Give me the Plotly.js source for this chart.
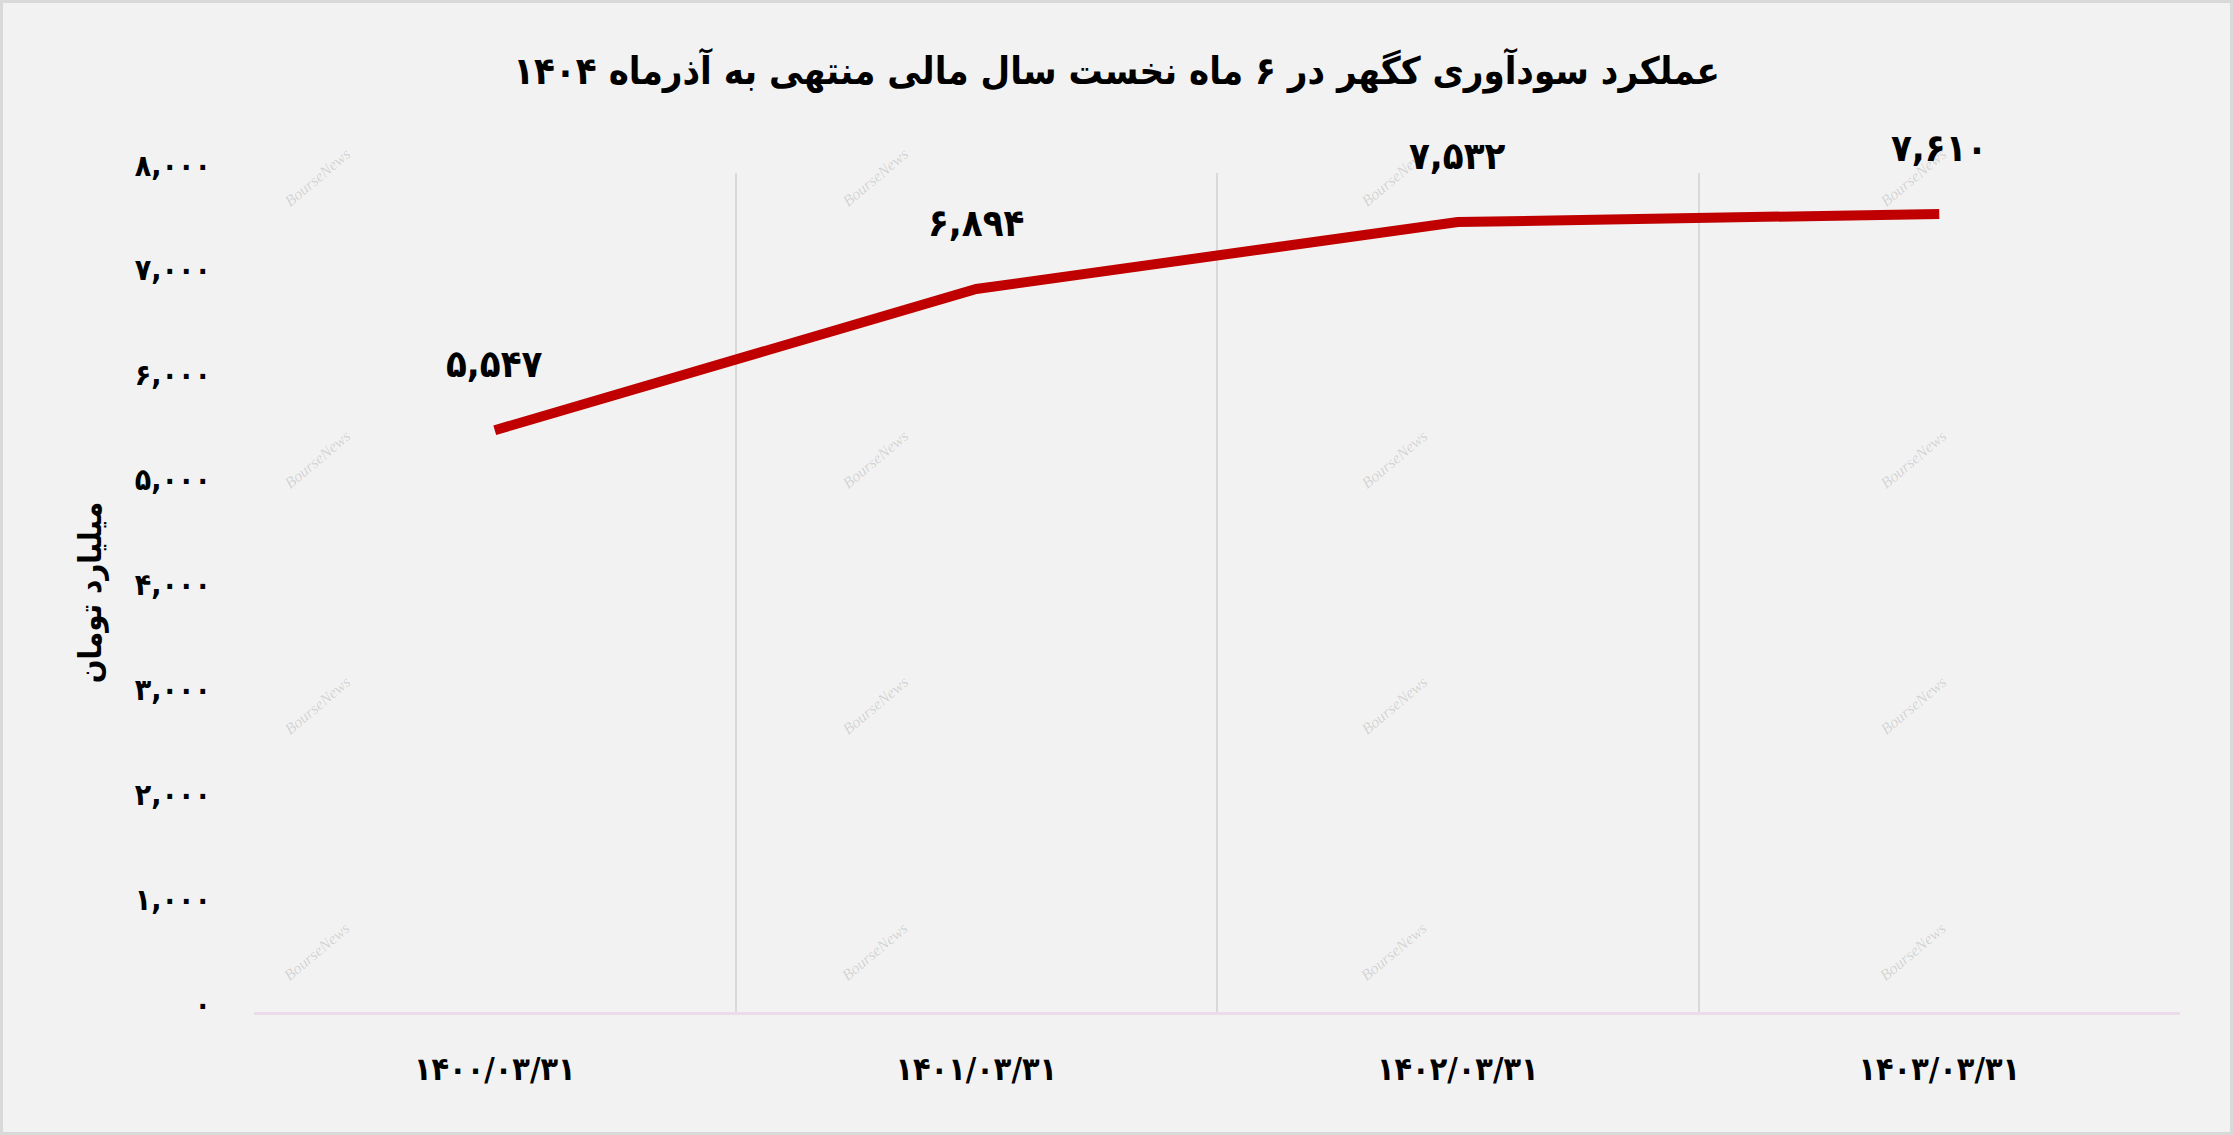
<!DOCTYPE html>
<html>
<head>
<meta charset="utf-8">
<script src="https://cdn.plot.ly/plotly-3.0.1.min.js"></script>
<style>
  html, body { margin: 0; padding: 0; background: #f2f2f2; }
  #frame { width: 2233px; height: 1135px; box-sizing: border-box; border: 3px solid #d9d9d9; background: #f2f2f2; }
  #chart { width: 2227px; height: 1129px; }
</style>
</head>
<body>
<div id="frame"><div id="chart"></div></div>
<script>
// ---- data ----
const categories = ["۱۴۰۰/۰۳/۳۱", "۱۴۰۱/۰۳/۳۱", "۱۴۰۲/۰۳/۳۱", "۱۴۰۳/۰۳/۳۱"];
const profitValues = [5547, 6894, 7532, 7610];
const valueLabels = ["۵,۵۴۷", "۶,۸۹۴", "۷,۵۳۲", "۷,۶۱۰"];
const yTickValues = [0, 1000, 2000, 3000, 4000, 5000, 6000, 7000, 8000];
const yTickLabels = ["۰", "۱,۰۰۰", "۲,۰۰۰", "۳,۰۰۰", "۴,۰۰۰", "۵,۰۰۰", "۶,۰۰۰", "۷,۰۰۰", "۸,۰۰۰"];
const chartTitle = "عملکرد سودآوری کگهر در ۶ ماه نخست سال مالی منتهی به آذرماه ۱۴۰۴";
const yAxisTitle = "میلیارد تومان";
const watermarkText = "BourseNews";

// ---- style ----
const FONT = "DejaVu Sans Condensed, DejaVu Sans, sans-serif";
const W = 2227, H = 1129;
const M = { l: 251, r: 50, t: 170, b: 120 };

const trace = {
  type: "scatter",
  mode: "lines",
  x: categories,
  y: profitValues,
  line: { color: "#c00000", width: 10 },
  hoverinfo: "skip"
};

const annotations = categories.map((c, i) => ({
  x: c, y: profitValues[i], xref: "x", yref: "y",
  text: "<b>" + valueLabels[i] + "</b>", showarrow: false, yshift: 66,
  font: { family: FONT, size: 38, color: "#000" }
}));

// watermark tiles (pixel positions in the figure)
const wmCols = [278, 836, 1394, 1952];
const wmRows = [142, 424, 705, 987];
const plotW = W - M.l - M.r, plotH = H - M.t - M.b;
wmRows.forEach(py => wmCols.forEach(px => {
  annotations.push({
    xref: "paper", yref: "paper",
    x: (px - 3 - M.l) / plotW, y: (H - M.b - (py - 3)) / plotH,
    text: "<i>" + watermarkText + "</i>", showarrow: false, textangle: -40,
    font: { family: "Liberation Serif", size: 16, color: "rgba(0,0,0,0.14)" }
  });
}));

const layout = {
  width: W, height: H,
  paper_bgcolor: "#f2f2f2", plot_bgcolor: "#f2f2f2",
  margin: M,
  showlegend: false,
  title: {
    text: "<b>" + chartTitle + "</b>", x: 0.5, xanchor: "center", xref: "container",
    y: 1 - 68 / H, yanchor: "middle", yref: "container",
    font: { family: FONT, size: 38, color: "#000" }
  },
  xaxis: {
    type: "category",
    range: [-0.5, 3.5],
    tickson: "boundaries",
    showgrid: true, gridcolor: "#d9d9d9", gridwidth: 2,
    showline: true, linecolor: "#ebdcea", linewidth: 3,
    ticks: "", ticklabelstandoff: 27,
    tickfont: { family: FONT, size: 32, color: "#000", weight: "bold" },
    zeroline: false, fixedrange: true
  },
  yaxis: {
    range: [0, 8000],
    tickvals: yTickValues, ticktext: yTickLabels,
    showgrid: false, zeroline: false, showline: false,
    ticks: "", ticklabelstandoff: 42, ticklabelshift: -8,
    tickfont: { family: FONT, size: 30, color: "#000", weight: "bold" },
    title: { text: "<b>" + yAxisTitle + "</b>", standoff: 23, font: { family: FONT, size: 31, color: "#000" } },
    fixedrange: true
  },
  annotations: annotations
};

Plotly.newPlot("chart", [trace], layout, { displayModeBar: false, staticPlot: true });
</script>
</body>
</html>
